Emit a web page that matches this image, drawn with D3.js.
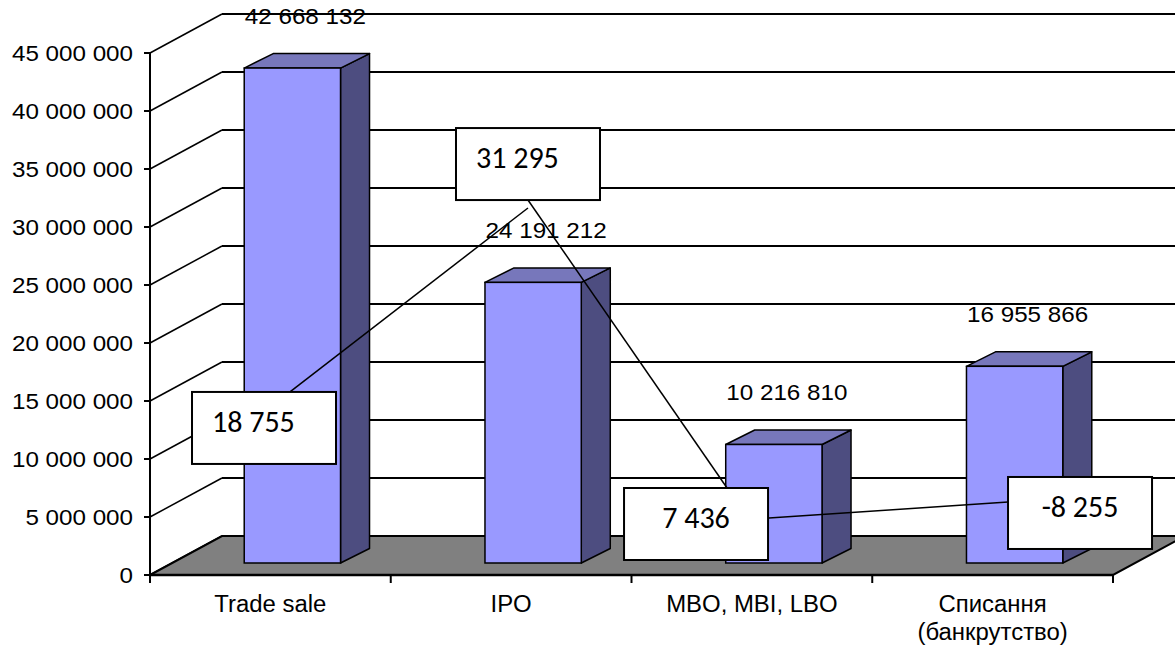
<!DOCTYPE html>
<html>
<head>
<meta charset="utf-8">
<script src="https://cdn.jsdelivr.net/npm/d3@7"></script>
<style>
  body { margin: 0; background: #fff; }
  svg { display: block; }
</style>
</head>
<body>
<div class="chart"></div>
<script>
// data
const categories = [["Trade sale"], ["IPO"], ["MBO, MBI, LBO"], ["Списання", "(банкрутство)"]];
const values = [42668132, 24191212, 10216810, 16955866];
const yTicks = [0, 5000000, 10000000, 15000000, 20000000, 25000000, 30000000, 35000000, 40000000, 45000000];
const calloutValues = [18755, 31295, 7436, -8255];

// callout boxes are hand placed, so keep them in chart coords (category index, value)
const calloutPos = [
  { c: 0.1745, v: 15.78e6, align: "left" },
  { c: 1.271, v: 38.53e6, align: "left" },
  { c: 1.969, v: 7.5e6, align: "middle" },
  { c: 3.564, v: 8.45e6, align: "middle" }
];
const connectors = [
  [0.5815, 15.78e6, 1.570, 31.64e6],
  [1.570, 32.33e6, 2.397, 7.5e6],
  [2.571, 4.91e6, 3.564, 6.29e6]
];

const width = 1175, height = 645;
const depth = { x: 72, y: 39 };       // wall depth
const barOff = { x: 22, y: 12 };      // bar front plane inside the floor
const barDepth = { x: 29, y: 14.5 };
const sx = 1.1;                        // the source picture is stretched horizontally

const fmt = d3.formatLocale({ decimal: ",", thousands: " ", grouping: [3], currency: ["", ""], minus: "-" }).format(",");

const svg = d3.select(".chart").append("svg")
  .attr("width", width).attr("height", height);

let x = d3.scaleLinear().domain([0, 4]).range([150, 1113]);
let y = d3.scaleLinear().domain([0, 45000000]).range([575, 53]);

function stretch(sel, k) {
  sel.attr("transform", function () {
    const tx = +this.getAttribute("x"), ty = +this.getAttribute("y");
    return `translate(${tx},${ty}) scale(${k},1) translate(${-tx},${-ty})`;
  });
}

// back wall gridlines + left wall diagonals
const grid = svg.append("g").attr("class", "grid");
grid.selectAll(".gl").data(yTicks.slice(1)).enter().append("line")
  .attr("x1", x(0) + depth.x).attr("x2", width + 20)
  .attr("y1", (d) => y(d) - depth.y).attr("y2", (d) => y(d) - depth.y)
  .attr("stroke", "#000").attr("stroke-width", 2);
grid.selectAll(".dg").data(yTicks).enter().append("line")
  .attr("x1", x(0)).attr("y1", (d) => y(d))
  .attr("x2", x(0) + depth.x).attr("y2", (d) => y(d) - depth.y)
  .attr("stroke", "#000").attr("stroke-width", 1.5);

// floor
svg.append("path")
  .attr("d", `M${x(0)},${y(0)} L${x(0) + depth.x},${y(0) - depth.y} L${x(4) + depth.x},${y(0) - depth.y} L${x(4)},${y(0)} Z`)
  .attr("fill", "#808080").attr("stroke", "#000").attr("stroke-width", 2);

// y axis
svg.append("line")
  .attr("x1", x(0)).attr("x2", x(0)).attr("y1", y(45000000)).attr("y2", y(0) + 7)
  .attr("stroke", "#000").attr("stroke-width", 2);
svg.selectAll(".ytick").data(yTicks).enter().append("line")
  .attr("x1", x(0) - 6).attr("x2", x(0))
  .attr("y1", (d) => y(d)).attr("y2", (d) => y(d))
  .attr("stroke", "#000").attr("stroke-width", 2);
svg.selectAll(".ylab").data(yTicks).enter().append("text")
  .attr("x", x(0) - 17).attr("y", (d) => y(d) + 8)
  .attr("text-anchor", "end")
  .style("font-family", "'Liberation Sans', Arial, sans-serif")
  .style("font-size", "22px")
  .text((d) => fmt(d))
  .call(stretch, sx);

// x axis
svg.append("line")
  .attr("x1", x(0)).attr("x2", x(4)).attr("y1", y(0)).attr("y2", y(0))
  .attr("stroke", "#000").attr("stroke-width", 2.5);
svg.selectAll(".xtick").data(d3.range(5)).enter().append("line")
  .attr("x1", (d) => x(d)).attr("x2", (d) => x(d))
  .attr("y1", y(0)).attr("y2", y(0) + 8)
  .attr("stroke", "#000").attr("stroke-width", 2);
const xl = svg.selectAll(".xlab").data(categories).enter().append("text")
  .attr("x", (d, i) => x(i + 0.5)).attr("y", 612)
  .attr("text-anchor", "middle")
  .style("font-family", "'Liberation Sans', Arial, sans-serif")
  .style("font-size", "23px");
xl.selectAll("tspan").data((d, i) => d.map((t) => ({ t, i }))).enter().append("tspan")
  .attr("x", (d) => x(d.i + 0.5)).attr("dy", (d, j) => (j ? 28 : 0))
  .text((d) => d.t);
xl.call(stretch, 1.04);

// 3d bars
const bw = 0.4; // fraction of a category
const bars = svg.selectAll(".bar").data(values).enter().append("g").attr("class", "bar");
const fx0 = (i) => x(i + 0.5 - bw / 2) + barOff.x;
const fx1 = (i) => x(i + 0.5 + bw / 2) + barOff.x;
const fyT = (d) => y(d) - barOff.y;
const fyB = y(0) - barOff.y;
bars.append("path")
  .attr("d", (d, i) => `M${fx1(i)},${fyB} L${fx1(i) + barDepth.x},${fyB - barDepth.y} L${fx1(i) + barDepth.x},${fyT(d) - barDepth.y} L${fx1(i)},${fyT(d)} Z`)
  .attr("fill", "#4d4d80").attr("stroke", "#000").attr("stroke-width", 1.5).attr("stroke-linejoin", "round");
bars.append("path")
  .attr("d", (d, i) => `M${fx0(i)},${fyT(d)} L${fx0(i) + barDepth.x},${fyT(d) - barDepth.y} L${fx1(i) + barDepth.x},${fyT(d) - barDepth.y} L${fx1(i)},${fyT(d)} Z`)
  .attr("fill", "#7777bb").attr("stroke", "#000").attr("stroke-width", 1.5).attr("stroke-linejoin", "round");
bars.append("rect")
  .attr("x", (d, i) => fx0(i)).attr("y", (d) => fyT(d))
  .attr("width", (d, i) => fx1(i) - fx0(i)).attr("height", (d) => fyB - fyT(d))
  .attr("fill", "#9999ff").attr("stroke", "#000").attr("stroke-width", 1.5);

// value labels
svg.selectAll(".vlab").data(values).enter().append("text")
  .attr("x", (d, i) => x(i + 0.5) + barOff.x + 13).attr("y", (d) => fyT(d) - 44)
  .attr("text-anchor", "middle")
  .style("font-family", "'Liberation Sans', Arial, sans-serif")
  .style("font-size", "22px")
  .text((d) => fmt(d))
  .call(stretch, sx);

// callout connectors
svg.selectAll(".conn").data(connectors).enter().append("line")
  .attr("x1", (d) => x(d[0])).attr("y1", (d) => y(d[1]))
  .attr("x2", (d) => x(d[2])).attr("y2", (d) => y(d[3]))
  .attr("stroke", "#000").attr("stroke-width", 1.5);

// callout boxes
const boxW = 144, boxH = 72;
const boxes = svg.selectAll(".callout").data(calloutValues).enter().append("g").attr("class", "callout");
boxes.append("rect")
  .attr("x", (d, i) => x(calloutPos[i].c)).attr("y", (d, i) => y(calloutPos[i].v))
  .attr("width", boxW).attr("height", boxH)
  .attr("fill", "#fff").attr("stroke", "#000").attr("stroke-width", 2);
boxes.append("text")
  .attr("x", (d, i) => calloutPos[i].align === "left" ? x(calloutPos[i].c) + 20 : x(calloutPos[i].c) + boxW / 2)
  .attr("y", (d, i) => y(calloutPos[i].v) + 40)
  .attr("text-anchor", (d, i) => calloutPos[i].align === "left" ? "start" : "middle")
  .style("font-family", "Carlito, Calibri, Lato, sans-serif")
  .style("font-size", "30px")
  .text((d) => fmt(d));
</script>
</body>
</html>
